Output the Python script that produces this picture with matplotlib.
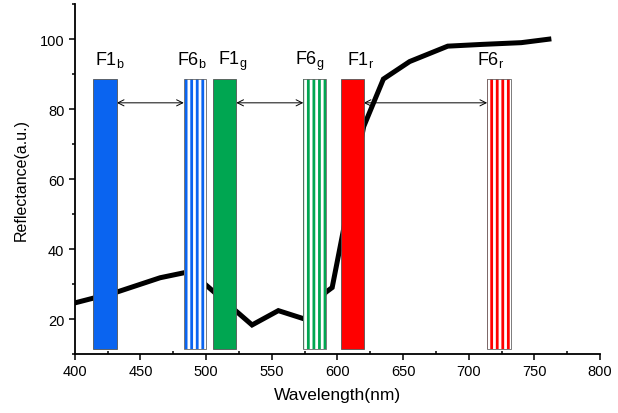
import numpy as np
import matplotlib
matplotlib.use('Agg')
import matplotlib.pyplot as plt
from matplotlib.ticker import MultipleLocator

plt.rcParams['font.family'] = ['Liberation Sans', 'DejaVu Sans']
plt.rcParams['mathtext.fontset'] = 'custom'
plt.rcParams['mathtext.rm'] = 'Liberation Sans'
plt.rcParams['hatch.linewidth'] = 2.0

# reflectance curve
wavelength = [400, 432, 465, 488, 535, 555, 575, 591, 596, 620, 635, 655, 684, 710, 740, 761]
reflectance = [24.6, 27.7, 31.8, 33.6, 18.3, 22.4, 20.0, 27.6, 29.0, 75.0, 88.6, 93.6, 98.0, 98.5, 99.0, 100.0]

# filter bands
band_names = ['F1', 'F6', 'F1', 'F6', 'F1', 'F6']
band_subs = ['b', 'b', 'g', 'g', 'r', 'r']
band_left = [414, 483, 505, 574, 603, 714]
band_right = [432, 500, 523, 591, 620, 732]
band_colors = ['#0a64f0', '#0a64f0', '#00a651', '#00a651', '#ff0000', '#ff0000']
band_striped = [False, True, False, True, False, True]
band_bottom = 11.5
band_top = 88.5
label_x = [415.5, 477.5, 509, 567.5, 607, 706]
label_y = 93.0
arrow_y = 81.8

fig = plt.figure(figsize=(6.18, 4.14), dpi=100)
ax = fig.add_axes([0.121, 0.1425, 0.85, 0.845])

ax.plot(wavelength, reflectance, color='black', lw=3.6, zorder=3, solid_joinstyle='miter')

for i in range(len(band_left)):
    w = band_right[i] - band_left[i]
    h = band_top - band_bottom
    if band_striped[i]:
        ax.bar(band_left[i], h, width=w, bottom=band_bottom, align='edge',
               color='white', edgecolor=band_colors[i], hatch='|||', linewidth=0, zorder=4)
        ax.bar(band_left[i], h, width=w, bottom=band_bottom, align='edge',
               fill=False, edgecolor='#666666', linewidth=0.6, zorder=5)
    else:
        ax.bar(band_left[i], h, width=w, bottom=band_bottom, align='edge',
               color=band_colors[i], edgecolor='#555555', linewidth=0.6, zorder=4)
    ax.text(label_x[i], label_y, band_names[i] + r'$_\mathregular{' + band_subs[i] + '}$',
            fontsize=13, ha='left', va='baseline')

# arrows between F1 and F6 of each colour
for i in range(0, len(band_left), 2):
    ax.annotate('', xy=(band_left[i + 1], arrow_y), xytext=(band_right[i], arrow_y),
                arrowprops=dict(arrowstyle='<->', lw=0.7, color='black',
                                shrinkA=0, shrinkB=0, mutation_scale=11),
                zorder=2)

ax.set_xlim(400, 800)
ax.set_ylim(10, 110)
ax.xaxis.set_major_locator(MultipleLocator(50))
ax.xaxis.set_minor_locator(MultipleLocator(25))
ax.yaxis.set_major_locator(MultipleLocator(20))
ax.yaxis.set_minor_locator(MultipleLocator(10))
ax.set_yticks([20, 40, 60, 80, 100])

for s in ['top', 'right']:
    ax.spines[s].set_visible(False)
for s in ['left', 'bottom']:
    ax.spines[s].set_linewidth(1.3)

ax.tick_params(axis='both', which='major', direction='out', length=4, width=1.1, labelsize=10.5)
ax.tick_params(axis='y', which='minor', direction='out', length=2.5, width=1.1)
ax.tick_params(axis='x', which='minor', direction='in', length=2.5, width=1.1)

ax.set_xlabel('Wavelength(nm)', fontsize=12.5, labelpad=6)
ax.set_ylabel('Reflectance(a.u.)', fontsize=11.5, labelpad=8)

fig.savefig('out.png', dpi=100)
